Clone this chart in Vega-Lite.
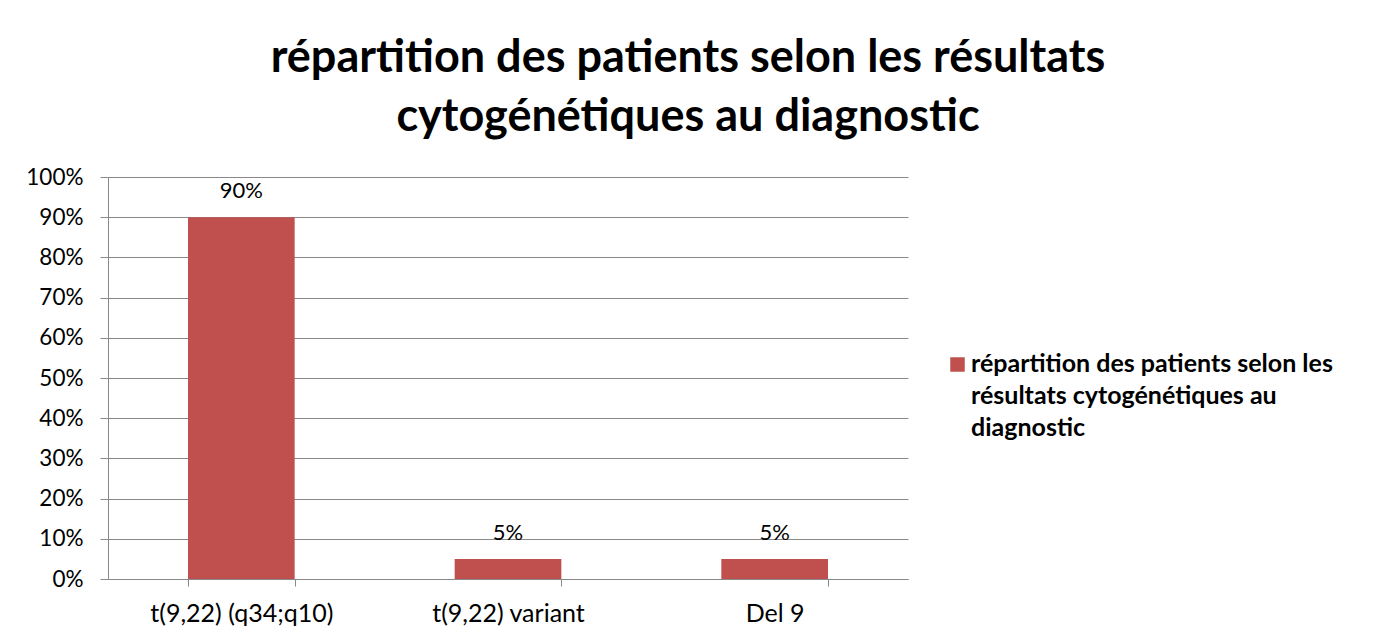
{
  "$schema": "https://vega.github.io/schema/vega-lite/v6.json",
  "width": 800,
  "height": 402,
  "autosize": {"type": "none"},
  "padding": {"left": 108, "top": 177, "right": 465, "bottom": 62},
  "background": "white",
  "title": {
    "text": ["répartition des patients selon les résultats", "cytogénétiques au diagnostic"],
    "anchor": "middle",
    "frame": "group",
    "dx": 180,
    "offset": -10,
    "baseline": "alphabetic",
    "fontSize": 45,
    "font": "Lato",
    "fontWeight": "bold",
    "lineHeight": 59,
    "color": "black"
  },
  "data": {
    "values": [
      {"categorie": "t(9,22) (q34;q10)", "pourcentage": 0.90, "serie": "répartition des patients selon les résultats cytogénétiques au diagnostic"},
      {"categorie": "t(9,22) variant", "pourcentage": 0.05, "serie": "répartition des patients selon les résultats cytogénétiques au diagnostic"},
      {"categorie": "Del 9", "pourcentage": 0.05, "serie": "répartition des patients selon les résultats cytogénétiques au diagnostic"}
    ]
  },
  "encoding": {
    "x": {
      "field": "categorie",
      "type": "nominal",
      "sort": null,
      "scale": {"paddingInner": 0.6, "paddingOuter": 0.3},
      "axis": {
        "title": null,
        "labelAngle": 0,
        "labelLimit": 300,
        "tickBand": "extent",
        "tickSize": 7,
        "labelPadding": 15,
        "domainColor": "#898989",
        "tickColor": "#898989",
        "labelFont": "Lato",
        "labelFontSize": 25,
        "labelColor": "black",
        "grid": false
      }
    },
    "y": {
      "field": "pourcentage",
      "type": "quantitative",
      "scale": {"domain": [0, 1], "nice": false},
      "axis": {
        "title": null,
        "values": [0, 0.1, 0.2, 0.3, 0.4, 0.5, 0.6, 0.7, 0.8, 0.9, 1],
        "format": ".0%",
        "tickSize": 8,
        "labelPadding": 17,
        "domainColor": "#898989",
        "tickColor": "#898989",
        "gridColor": "#898989",
        "labelFont": "Lato",
        "labelFontSize": 22.5,
        "labelColor": "black"
      }
    }
  },
  "layer": [
    {
      "mark": {"type": "bar"},
      "encoding": {
        "color": {
          "field": "serie",
          "type": "nominal",
          "scale": {"range": ["#C0504D"]},
          "legend": {
            "title": null,
            "orient": "none",
            "legendX": 837,
            "legendY": 162.5,
            "padding": 0,
            "symbolType": "M-1,0.725H1V2.725H-1Z",
            "symbolSize": 210,
            "symbolStrokeWidth": 0,
            "labelFont": "Lato",
            "labelFontSize": 25,
            "labelFontWeight": "bold",
            "labelColor": "black",
            "labelLimit": 500,
            "labelOffset": 1,
            "labelBaseline": "top",
            "labelExpr": "['répartition des patients selon les', 'résultats cytogénétiques au', 'diagnostic']"
          }
        }
      }
    },
    {
      "mark": {"type": "text", "baseline": "alphabetic", "dy": -19, "font": "Lato", "fontSize": 22, "color": "black"},
      "encoding": {
        "text": {"field": "pourcentage", "type": "quantitative", "format": ".0%"}
      }
    }
  ],
  "config": {
    "view": {"stroke": null},
    "style": {"guide-label": {"lineHeight": 32}}
  }
}
